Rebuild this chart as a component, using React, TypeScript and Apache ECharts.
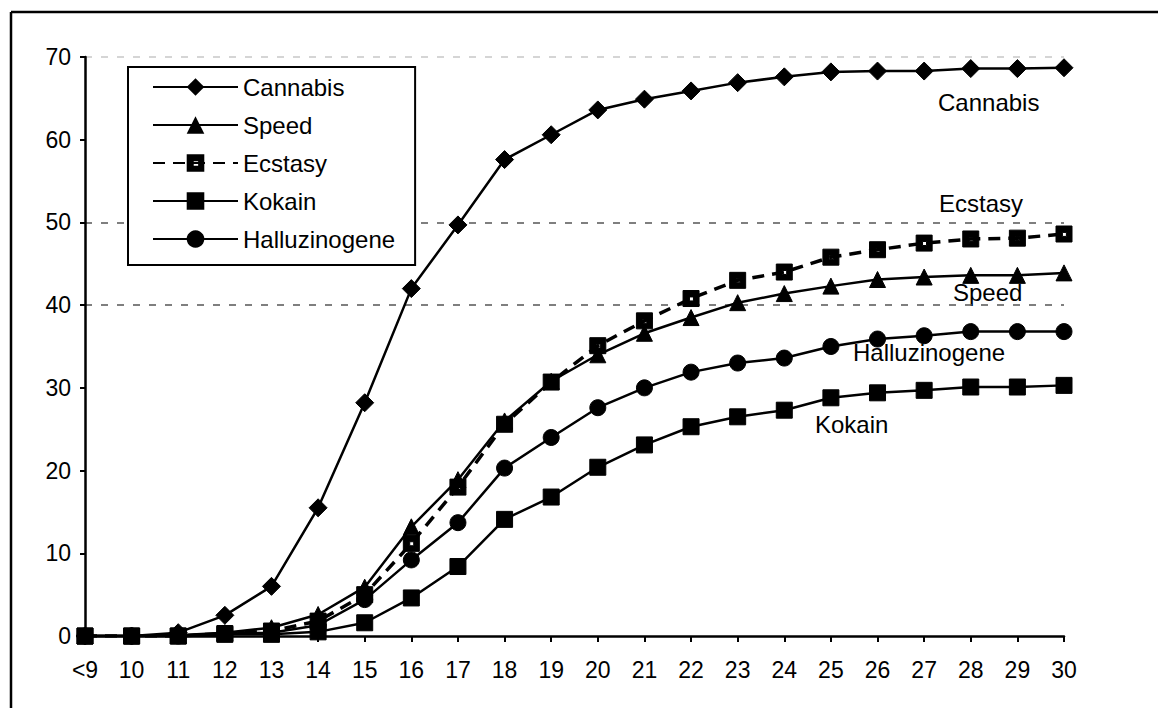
import React, { useEffect, useRef } from "react";
import * as echarts from "echarts";

const ages = ["<9", "10", "11", "12", "13", "14", "15", "16", "17", "18", "19", "20", "21", "22", "23", "24", "25", "26", "27", "28", "29", "30"];
const cannabis = [0, 0, 0.4, 2.5, 6.0, 15.5, 28.2, 42.0, 49.7, 57.6, 60.6, 63.6, 64.9, 65.9, 66.9, 67.6, 68.2, 68.3, 68.3, 68.6, 68.6, 68.7];
const speed = [0, 0, 0.1, 0.4, 1.0, 2.6, 5.9, 13.2, 18.9, 26.0, 30.8, 34.0, 36.6, 38.5, 40.3, 41.4, 42.3, 43.1, 43.4, 43.6, 43.6, 43.9];
const ecstasy = [0, 0, 0, 0.3, 0.6, 1.8, 5.0, 11.2, 18.0, 25.6, 30.7, 35.1, 38.1, 40.8, 43.0, 44.0, 45.8, 46.7, 47.5, 48.0, 48.1, 48.6];
const kokain = [0, 0, 0, 0.2, 0.2, 0.5, 1.6, 4.6, 8.4, 14.1, 16.8, 20.4, 23.1, 25.3, 26.5, 27.3, 28.8, 29.4, 29.7, 30.1, 30.1, 30.3];
const halluzinogene = [0, 0, 0, 0.3, 0.4, 1.3, 4.4, 9.2, 13.7, 20.3, 24.0, 27.6, 30.0, 31.9, 33.0, 33.6, 35.0, 35.9, 36.3, 36.8, 36.8, 36.8];

const FONT = "'Liberation Sans', Arial, sans-serif";

export default function App() {
  const ref = useRef<HTMLDivElement>(null);
  useEffect(() => {
    if (!ref.current) return;
    const chart = echarts.init(ref.current, null, { renderer: "svg" });
    const base = (name: string, data: number[], symbol: string, size: number, extra: any = {}) => ({
      name,
      type: "line",
      data,
      symbol,
      symbolSize: size,
      itemStyle: { color: "#000", borderColor: "#000" },
      lineStyle: { color: "#000", width: 2.5 },
      ...extra,
    });
    const annot = (text: string, x: number, y: number) => ({
      type: "text",
      x,
      y,
      style: { text, fill: "#000", fontSize: 24, fontFamily: FONT, verticalAlign: "middle", align: "left" },
    });
    chart.setOption({
      animation: false,
      backgroundColor: "#fff",
      textStyle: { fontFamily: FONT },
      grid: { left: 85, right: 94, top: 57, bottom: 72 },
      legend: {
        orient: "vertical",
        left: 128,
        top: 67,
        padding: [8, 20, 14, 24],
        itemGap: 14,
        itemWidth: 85,
        itemHeight: 22,
        borderColor: "#000",
        borderWidth: 2,
        backgroundColor: "#fff",
        textStyle: { fontSize: 24, color: "#000", fontFamily: FONT },
        data: ["Cannabis", "Speed", "Ecstasy", "Kokain", "Halluzinogene"],
      },
      xAxis: {
        type: "category",
        data: ages,
        boundaryGap: false,
        axisLine: { lineStyle: { color: "#000", width: 2.5 } },
        axisTick: { show: true, length: 6, lineStyle: { color: "#000", width: 2 } },
        axisLabel: { color: "#000", fontSize: 23, margin: 22, fontFamily: FONT },
        splitLine: { show: false },
      },
      yAxis: {
        type: "value",
        min: 0,
        max: 70,
        interval: 10,
        axisLine: { show: true, lineStyle: { color: "#000", width: 2.5 } },
        axisTick: { show: true, length: 5, lineStyle: { color: "#000", width: 2 } },
        axisLabel: { color: "#000", fontSize: 23, margin: 14, fontFamily: FONT },
        splitLine: {
          show: true,
          lineStyle: {
            type: [7, 9],
            width: 1.5,
            color: ["transparent", "transparent", "transparent", "transparent", "#555", "#555", "transparent", "#c8c8c8"],
          },
        },
      },
      graphic: [
        { type: "line", shape: { x1: 11, y1: 12, x2: 1158, y2: 12 }, style: { stroke: "#000", lineWidth: 2.5 }, silent: true },
        { type: "line", shape: { x1: 11, y1: 12, x2: 11, y2: 708 }, style: { stroke: "#000", lineWidth: 2.5 }, silent: true },
        annot("Cannabis", 938, 102),
        annot("Ecstasy", 939, 203),
        annot("Speed", 953, 292),
        annot("Halluzinogene", 853, 352),
        annot("Kokain", 815, 424),
      ],
      series: [
        base("Cannabis", cannabis, "diamond", 18),
        base("Speed", speed, "triangle", 16),
        base("Ecstasy", ecstasy, "path://M0,0H10V10H0Z M4,4V6.5H6.5V4Z", 16, {
          lineStyle: { color: "#000", width: 3.5, type: [12, 8] },
        }),
        base("Kokain", kokain, "rect", 16),
        base("Halluzinogene", halluzinogene, "circle", 16),
      ],
    });
    return () => chart.dispose();
  }, []);
  return <div ref={ref} style={{ position: "fixed", left: 0, top: 0, width: 1158, height: 708 }} />;
}
